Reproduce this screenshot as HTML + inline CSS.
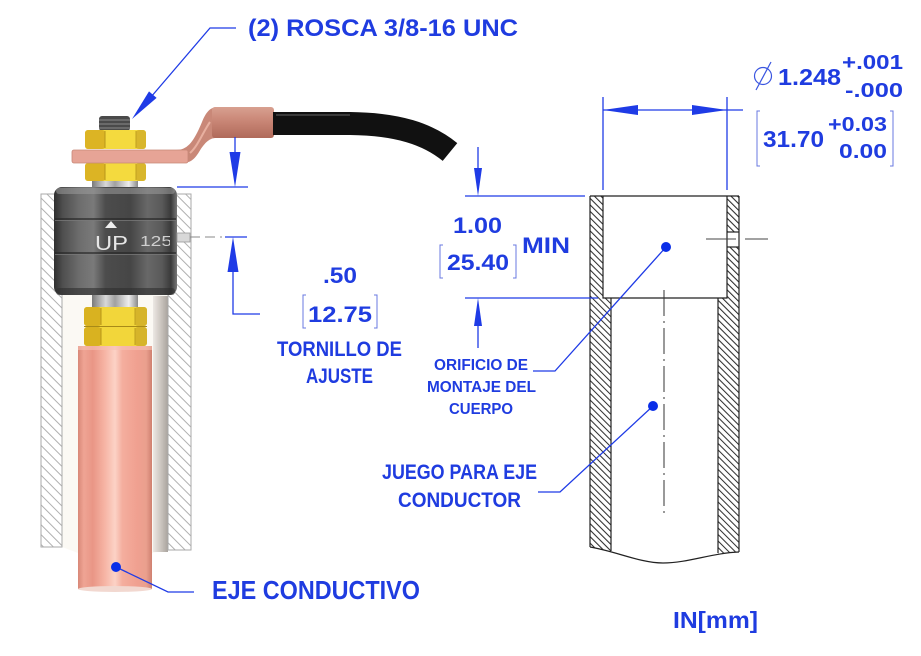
<!DOCTYPE html>
<html><head><meta charset="utf-8">
<style>
html,body{margin:0;padding:0;background:#fff;}
svg{display:block;}
text.b{font-family:"Liberation Sans",sans-serif;font-weight:bold;fill:#1f3ce0;}
</style></head><body>
<svg width="921" height="656" viewBox="0 0 921 656" xmlns="http://www.w3.org/2000/svg">
<defs>
<pattern id="hl" width="7" height="7" patternUnits="userSpaceOnUse" patternTransform="rotate(-45)">
 <line x1="1" y1="0" x2="1" y2="7" stroke="#b0b0b0" stroke-width="1"/>
</pattern>
<pattern id="hr" width="4.6" height="4.6" patternUnits="userSpaceOnUse" patternTransform="rotate(-45)">
 <line x1="1" y1="0" x2="1" y2="4.6" stroke="#222" stroke-width="1"/>
</pattern>
<linearGradient id="gBody" x1="0" y1="0" x2="1" y2="0">
 <stop offset="0" stop-color="#2e2e2e"/><stop offset="0.07" stop-color="#4e4e4e"/>
 <stop offset="0.2" stop-color="#6c6c6c"/><stop offset="0.32" stop-color="#7a7a7a"/>
 <stop offset="0.42" stop-color="#4c4c4c"/><stop offset="0.62" stop-color="#464646"/>
 <stop offset="0.76" stop-color="#686868"/><stop offset="0.88" stop-color="#595959"/>
 <stop offset="0.95" stop-color="#3a3a3a"/><stop offset="1" stop-color="#777"/>
</linearGradient>
<linearGradient id="gRod" x1="0" y1="0" x2="1" y2="0">
 <stop offset="0" stop-color="#d88878"/><stop offset="0.08" stop-color="#efa494"/>
 <stop offset="0.2" stop-color="#e99686"/><stop offset="0.36" stop-color="#f6b4a4"/>
 <stop offset="0.5" stop-color="#fcd2c6"/><stop offset="0.6" stop-color="#f4ae9e"/>
 <stop offset="0.8" stop-color="#f0a090"/><stop offset="0.92" stop-color="#eaa08e"/>
 <stop offset="1" stop-color="#cf8070"/>
</linearGradient>
<linearGradient id="gSil" x1="0" y1="0" x2="1" y2="0">
 <stop offset="0" stop-color="#7a7a7a"/><stop offset="0.3" stop-color="#d8d8d8"/>
 <stop offset="0.5" stop-color="#a0a0a0"/><stop offset="0.8" stop-color="#eeeeee"/>
 <stop offset="1" stop-color="#888"/>
</linearGradient>
<linearGradient id="gTube" x1="0" y1="0" x2="1" y2="0">
 <stop offset="0" stop-color="#ece8e4"/><stop offset="0.5" stop-color="#cdc7c1"/>
 <stop offset="1" stop-color="#a9a39d"/>
</linearGradient>
<linearGradient id="gSleeve" x1="0" y1="0" x2="0" y2="1">
 <stop offset="0" stop-color="#d8a090"/><stop offset="0.45" stop-color="#c98676"/>
 <stop offset="1" stop-color="#b06a5a"/>
</linearGradient>
<clipPath id="tubeclip"><path d="M590,196 H739 V552 C712,553 688,563 663,563 C640,563 615,551 590,547 Z"/></clipPath>
<clipPath id="bodyclip"><rect x="54" y="187" width="116" height="108"/></clipPath>
</defs>

<!-- ================= LEFT ASSEMBLY ================= -->
<!-- interior -->
<path d="M62,194 H168 V550 L152,553 L78,553 L62,547 Z" fill="#fbf9f4"/>
<rect x="153" y="296" width="15" height="256" fill="url(#gTube)"/>
<line x1="62" y1="194" x2="62" y2="547" stroke="#8a8a8a" stroke-width="1"/>
<!-- hatched walls -->
<rect x="41" y="194" width="21" height="353" fill="url(#hl)" stroke="#aaa" stroke-width="1"/>
<rect x="168" y="194" width="23" height="356" fill="url(#hl)" stroke="#aaa" stroke-width="1"/>

<!-- shaft -->
<rect x="92" y="294" width="46" height="16" fill="url(#gSil)"/>
<!-- lower nuts -->
<g>
 <rect x="84" y="307" width="63" height="19" rx="3" fill="#f2d63a"/>
 <rect x="84" y="307" width="17" height="19" rx="3" fill="#d9b220"/>
 <rect x="135" y="307" width="12" height="19" rx="3" fill="#d6b42a"/>
 <line x1="101" y1="308" x2="101" y2="325" stroke="#b8961a" stroke-width="1"/>
 <line x1="135" y1="308" x2="135" y2="325" stroke="#c0a020" stroke-width="1"/>
 <rect x="84" y="327" width="63" height="19" rx="3" fill="#f2d63a"/>
 <rect x="84" y="327" width="17" height="19" rx="3" fill="#d9b220"/>
 <rect x="135" y="327" width="12" height="19" rx="3" fill="#d6b42a"/>
 <line x1="101" y1="328" x2="101" y2="345" stroke="#b8961a" stroke-width="1"/>
 <line x1="135" y1="328" x2="135" y2="345" stroke="#c0a020" stroke-width="1"/>
 <line x1="84" y1="326.5" x2="147" y2="326.5" stroke="#a88a18" stroke-width="1"/>
</g>
<!-- copper rod -->
<rect x="78" y="346" width="74" height="243" fill="url(#gRod)"/>
<ellipse cx="115" cy="589" rx="37" ry="3" fill="#f2d8d0"/>
<rect x="78" y="346" width="74" height="4" fill="#f6c0b2" opacity="0.6"/>

<!-- body -->
<rect x="54" y="187" width="123" height="108" rx="8" fill="url(#gBody)"/>
<rect x="56" y="188" width="119" height="6" rx="3" fill="#9a9a9a" opacity="0.55"/>
<line x1="55" y1="219" x2="176" y2="219" stroke="#262626" stroke-width="1.2"/>
<line x1="55" y1="220.5" x2="176" y2="220.5" stroke="#7a7a7a" stroke-width="0.8"/>
<line x1="55" y1="253" x2="176" y2="253" stroke="#262626" stroke-width="1.2"/>
<line x1="55" y1="254.5" x2="176" y2="254.5" stroke="#7a7a7a" stroke-width="0.8"/>
<rect x="56" y="288" width="119" height="7" rx="3" fill="#2e2e2e" opacity="0.6"/>
<polygon points="111,221 105,228 117,228" fill="#eeeeee"/>
<text x="95" y="250" font-family="Liberation Sans, sans-serif" font-size="20" fill="#e6e6e6" textLength="33" lengthAdjust="spacingAndGlyphs">UP</text>
<g clip-path="url(#bodyclip)">
 <text x="140" y="246" font-family="Liberation Sans, sans-serif" font-size="15" fill="#cfcfcf" textLength="32" lengthAdjust="spacingAndGlyphs">125</text>
</g>
<!-- pin -->
<rect x="177" y="233" width="13" height="9" fill="#d8d8d8" stroke="#999" stroke-width="0.8"/>

<!-- washer -->
<rect x="92" y="180" width="46" height="7" fill="url(#gSil)"/>
<!-- thread stub -->
<rect x="99" y="116" width="31" height="15" rx="3" fill="#4a4a4a"/>
<line x1="99" y1="120" x2="130" y2="120" stroke="#8a8a8a" stroke-width="1"/>
<line x1="99" y1="124" x2="130" y2="124" stroke="#8a8a8a" stroke-width="1"/>
<line x1="99" y1="128" x2="130" y2="128" stroke="#8a8a8a" stroke-width="1"/>
<!-- upper nut -->
<rect x="85" y="130" width="61" height="19" rx="3" fill="#f4da3e"/>
<rect x="85" y="130" width="20" height="19" rx="3" fill="#dcb424"/>
<rect x="136" y="130" width="10" height="19" rx="3" fill="#d8b62c"/>
<line x1="105" y1="131" x2="105" y2="148" stroke="#b8961a"/>
<line x1="136" y1="131" x2="136" y2="148" stroke="#c0a020"/>
<!-- lower nut -->
<rect x="85" y="163" width="61" height="18" rx="3" fill="#f4da3e"/>
<rect x="85" y="163" width="20" height="18" rx="3" fill="#dcb424"/>
<rect x="136" y="163" width="10" height="18" rx="3" fill="#d8b62c"/>
<line x1="105" y1="164" x2="105" y2="180" stroke="#b8961a"/>
<line x1="136" y1="164" x2="136" y2="180" stroke="#c0a020"/>
<!-- lug -->
<path d="M176,150 C188,150 194,141 202,122 C206,112 210,108 216,107 L216,138 C210,138 205,142 199,152 C194,160 190,163 182,163 Z" fill="#c98878"/>
<path d="M190,153 C198,146 203,132 210,122" stroke="#e8b0a0" stroke-width="2" fill="none"/>
<rect x="72" y="150" width="116" height="13" rx="2" fill="#e6a496" stroke="#c88878" stroke-width="0.8"/>
<rect x="212" y="107" width="62" height="31" rx="3" fill="url(#gSleeve)"/>
<!-- cable -->
<path d="M273,123.5 L350,123.5 C398,124 428,134 450,152" stroke="#111" stroke-width="23" fill="none"/>
<path d="M276,115 L350,115" stroke="#3a3a3a" stroke-width="2" fill="none"/>

<!-- left assembly dimensions -->
<g stroke="#1f3be6" stroke-width="1.3" fill="none">
 <line x1="177" y1="187" x2="248" y2="187"/>
 <line x1="235" y1="137" x2="235" y2="160"/>
 <line x1="225" y1="237" x2="247" y2="237"/>
 <polyline points="233,268 233,314 260,314"/>
 <polyline points="236,28 210,28 145,104"/>
</g>
<line x1="190" y1="237" x2="222" y2="237" stroke="#8a8a8a" stroke-width="1" stroke-dasharray="10 5"/>
<polygon points="235,187 229.5,152 240.5,152" fill="#1f3be6"/>
<polygon points="233,237 227.5,272 238.5,272" fill="#1f3be6"/>
<polygon points="132,119 156.6,97.9 149,91.4" fill="#1f3be6"/>

<!-- ================= RIGHT DRAWING ================= -->
<g clip-path="url(#tubeclip)">
 <rect x="590" y="196" width="149" height="370" fill="url(#hr)"/>
 <rect x="603" y="196" width="124" height="102" fill="#fff"/>
 <rect x="611" y="298" width="107" height="270" fill="#fff"/>
 <rect x="727" y="232" width="12" height="15" fill="#fff"/>
</g>
<g stroke="#222" stroke-width="1.2" fill="none">
 <line x1="590" y1="196" x2="739" y2="196"/>
 <line x1="590" y1="196" x2="590" y2="547"/>
 <line x1="739" y1="196" x2="739" y2="552"/>
 <polyline points="603,196 603,298 727,298 727,196"/>
 <line x1="611" y1="298" x2="611" y2="551"/>
 <line x1="718" y1="298" x2="718" y2="553"/>
 <path d="M590,547 C615,551 640,563 663,563 C688,563 712,553 739,552"/>
 <line x1="727" y1="232" x2="739" y2="232"/>
 <line x1="727" y1="247" x2="739" y2="247"/>
</g>
<line x1="664" y1="290" x2="664" y2="517" stroke="#333" stroke-width="1" stroke-dasharray="26 5 2 5"/>
<g stroke="#444" stroke-width="0.9">
 <line x1="706" y1="239" x2="736" y2="239"/>
 <line x1="745" y1="239" x2="768" y2="239"/>
</g>

<!-- right dims -->
<g stroke="#1f3be6" stroke-width="1.3" fill="none">
 <line x1="603" y1="97" x2="603" y2="190"/>
 <line x1="727" y1="97" x2="727" y2="190"/>
 <line x1="603" y1="110" x2="743" y2="110"/>
 <line x1="465" y1="196" x2="585" y2="196"/>
 <line x1="478" y1="147" x2="478" y2="172"/>
 <line x1="465" y1="298" x2="598" y2="298"/>
 <line x1="478" y1="322" x2="478" y2="348"/>
 <polyline points="666,247 555,371 533,371"/>
 <polyline points="653,406 560,492 538,492"/>
 <polyline points="116,567 168,592 194,592"/>
</g>
<polygon points="603,110 638,105 638,115" fill="#1f3be6"/>
<polygon points="727,110 692,105 692,115" fill="#1f3be6"/>
<polygon points="478,196 474,168 482,168" fill="#1f3be6"/>
<polygon points="478,298 474,326 482,326" fill="#1f3be6"/>
<circle cx="666" cy="247" r="5" fill="#0a2ee8"/>
<circle cx="653" cy="406" r="5" fill="#0a2ee8"/>
<circle cx="116" cy="567" r="5" fill="#0a2ee8"/>

<!-- brackets -->
<g stroke="#6878e0" stroke-width="1" fill="none">
 <polyline points="306,295 303,295 303,328 306,328"/>
 <polyline points="374,295 377,295 377,328 374,328"/>
 <polyline points="443,245 440,245 440,278 443,278"/>
 <polyline points="513,245 516,245 516,278 513,278"/>
 <polyline points="760,111 757,111 757,166 760,166"/>
 <polyline points="890,111 893,111 893,166 890,166"/>
</g>
<!-- diameter symbol -->
<g stroke="#3a55e0" stroke-width="1.2" fill="none">
 <circle cx="763" cy="76" r="8.5"/>
 <line x1="756" y1="90" x2="771" y2="62"/>
</g>

<!-- texts -->
<text class="b" x="248" y="36" font-size="24" textLength="270" lengthAdjust="spacingAndGlyphs">(2) ROSCA 3/8-16 UNC</text>
<text class="b" x="323" y="283" font-size="22" textLength="34" lengthAdjust="spacingAndGlyphs">.50</text>
<text class="b" x="308" y="322" font-size="22" textLength="64" lengthAdjust="spacingAndGlyphs">12.75</text>
<text class="b" x="277" y="356" font-size="21" textLength="125" lengthAdjust="spacingAndGlyphs">TORNILLO DE</text>
<text class="b" x="306" y="383" font-size="21" textLength="67" lengthAdjust="spacingAndGlyphs">AJUSTE</text>
<text class="b" x="453" y="233" font-size="22" textLength="49" lengthAdjust="spacingAndGlyphs">1.00</text>
<text class="b" x="447" y="270" font-size="22" textLength="62" lengthAdjust="spacingAndGlyphs">25.40</text>
<text class="b" x="522" y="253" font-size="22" textLength="48" lengthAdjust="spacingAndGlyphs">MIN</text>
<text class="b" x="778" y="85" font-size="23" textLength="63" lengthAdjust="spacingAndGlyphs">1.248</text>
<text class="b" x="842" y="69" font-size="20" textLength="61" lengthAdjust="spacingAndGlyphs">+.001</text>
<text class="b" x="845" y="97" font-size="20" textLength="58" lengthAdjust="spacingAndGlyphs">-.000</text>
<text class="b" x="763" y="147" font-size="23" textLength="61" lengthAdjust="spacingAndGlyphs">31.70</text>
<text class="b" x="828" y="131" font-size="20" textLength="59" lengthAdjust="spacingAndGlyphs">+0.03</text>
<text class="b" x="839" y="158" font-size="20" textLength="48" lengthAdjust="spacingAndGlyphs">0.00</text>
<text class="b" x="434" y="370" font-size="16" textLength="94" lengthAdjust="spacingAndGlyphs">ORIFICIO DE</text>
<text class="b" x="427" y="392" font-size="16" textLength="109" lengthAdjust="spacingAndGlyphs">MONTAJE DEL</text>
<text class="b" x="449" y="414" font-size="16" textLength="64" lengthAdjust="spacingAndGlyphs">CUERPO</text>
<text class="b" x="382" y="479" font-size="21" textLength="155" lengthAdjust="spacingAndGlyphs">JUEGO PARA EJE</text>
<text class="b" x="398" y="507" font-size="21" textLength="123" lengthAdjust="spacingAndGlyphs">CONDUCTOR</text>
<text class="b" x="212" y="599" font-size="26" textLength="208" lengthAdjust="spacingAndGlyphs">EJE CONDUCTIVO</text>
<text class="b" x="673" y="628" font-size="23" textLength="85" lengthAdjust="spacingAndGlyphs">IN[mm]</text>
</svg>
</body></html>
